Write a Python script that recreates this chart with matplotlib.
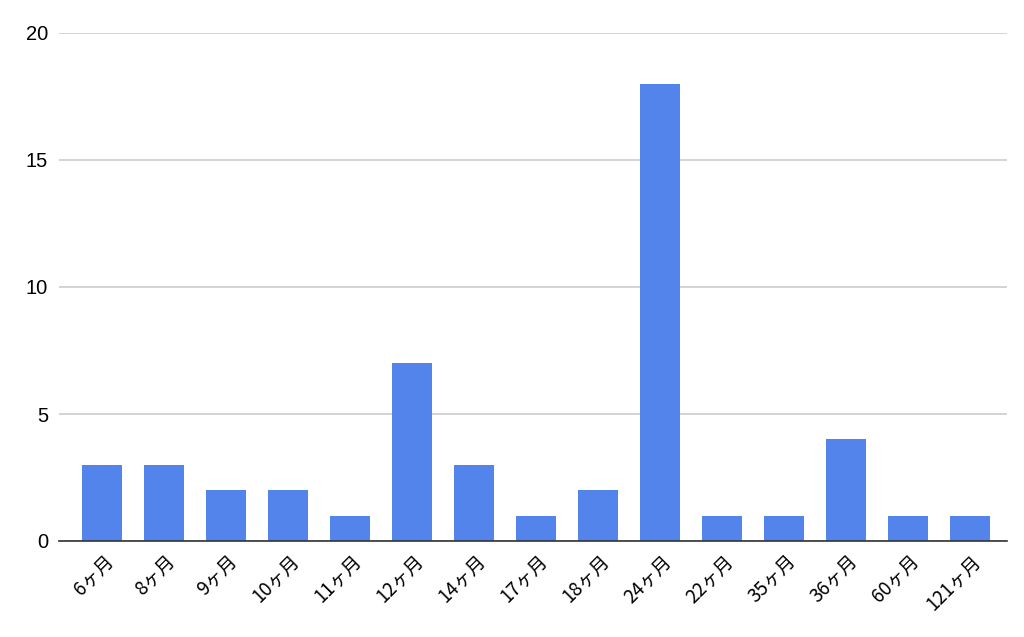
import matplotlib
matplotlib.use("Agg")
import matplotlib.pyplot as plt
import matplotlib.transforms as mtransforms

categories = ["6ヶ月", "8ヶ月", "9ヶ月", "10ヶ月", "11ヶ月", "12ヶ月", "14ヶ月", "17ヶ月",
              "18ヶ月", "24ヶ月", "22ヶ月", "35ヶ月", "36ヶ月", "60ヶ月", "121ヶ月"]
values = [3, 3, 2, 2, 1, 7, 3, 1, 2, 18, 1, 1, 4, 1, 1]
yticks = [0, 5, 10, 15, 20]

plt.rcParams['font.family'] = ['Noto Sans CJK JP', 'DejaVu Sans']

fig = plt.figure(figsize=(10.24, 6.37), dpi=100)
ax = fig.add_axes([59/1024, 1 - 541/637, (1007-59)/1024, (541-33)/637])

x = list(range(len(categories)))
ax.bar(x, values, width=0.65, color="#5384ec", zorder=3)
ax.set_xlim(-0.69, len(categories) - 1 + 0.6)
ax.set_ylim(0, 20)
ax.set_yticks(yticks)
ax.set_yticklabels([str(v) for v in yticks], fontsize=14.5, family=['Liberation Sans', 'DejaVu Sans'])
ax.yaxis.grid(True, color="#cccccc", linewidth=1.2, zorder=0)
ax.tick_params(axis='y', length=0, pad=8)
ax.tick_params(axis='x', length=0, pad=7)
ax.set_xticks(x)
ax.set_xticklabels(categories, rotation=45, ha='right', rotation_mode='anchor', fontsize=13.5)
offset = mtransforms.ScaledTranslation(1/100, 0, fig.dpi_scale_trans)
for lab in ax.get_xticklabels():
    lab.set_transform(lab.get_transform() + offset)
for s in ["top", "right", "left"]:
    ax.spines[s].set_visible(False)
ax.spines["bottom"].set_color("#333333")
ax.spines["bottom"].set_linewidth(1.2)
ax.spines["bottom"].set_zorder(4)

fig.savefig("out.png", dpi=100)
